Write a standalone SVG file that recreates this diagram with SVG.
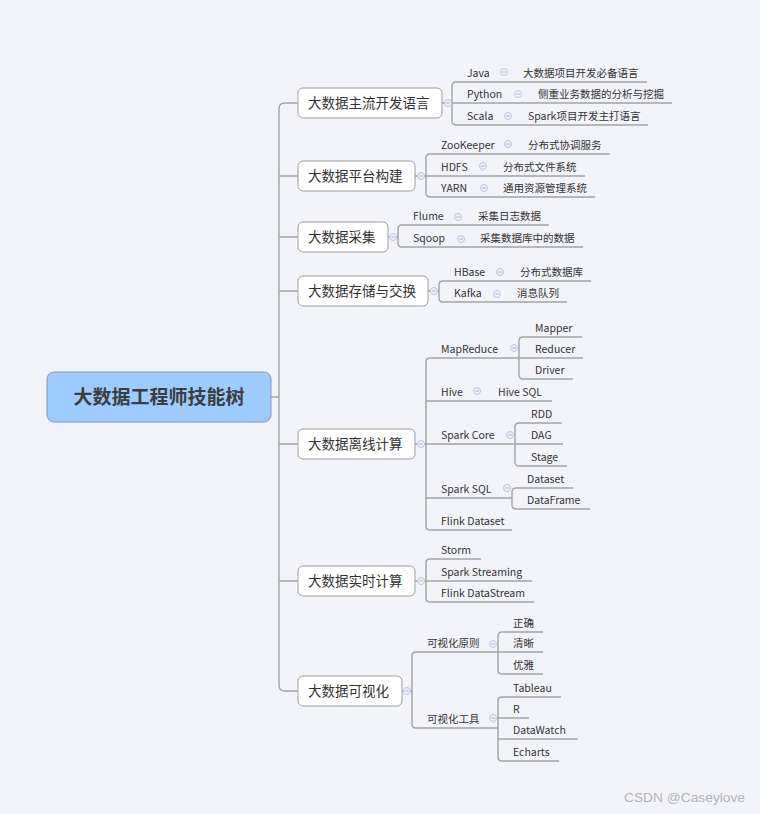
<svg xmlns="http://www.w3.org/2000/svg" xmlns:xlink="http://www.w3.org/1999/xlink" width="760" height="814" viewBox="0 0 760 814">
<style>
text{font-family:"Noto Sans CJK SC","Noto Sans",sans-serif;fill:#333}
.ln{fill:none;stroke:#a3a3a3;stroke-width:1.4}
.box{fill:#fff;stroke:#9e9e9e;stroke-width:1}
.t1{font-size:13.5px}
.t2{font-size:10.5px}
.wm{font-family:"Liberation Sans",Arial,sans-serif;font-size:13.3px;fill:#b3b3b3}
</style>
<defs>
<g id="cb"><circle r="3.5" fill="#eef1f8" stroke="#bcc6de" stroke-width="1"/><line x1="-1.8" x2="1.8" y1="0" y2="0" stroke="#a9b4d0" stroke-width="1"/></g>
</defs>
<rect width="760" height="814" fill="#f3f4f9"/>
<g id="connectors" class="ln">
<path d="M271,397H279M298,103H285Q279,103 279,109V685Q279,691 285,691H298M279,176H298M279,237H298M279,291H298M279,444H298M279,581H298"/>
<path d="M442,103H452M415,176H426M388,237H398M428,291H439M415,444H426M415,581H426M402,691H412"/>
<path d="M456,82Q452,82 452,86V121Q452,125 456,125M456,82H647M452,103H672M456,125H648"/>
<path d="M430,154Q426,154 426,158V193Q426,197 430,197M430,154H610M426,176H585M430,197H595"/>
<path d="M402,225Q398,225 398,229V243Q398,247 402,247M402,225H549M402,247H583"/>
<path d="M443,281Q439,281 439,285V298Q439,302 443,302M443,281H591M443,302H567"/>
<path d="M430,358Q426,358 426,362V526Q426,530 430,530M430,358H583M426,401H552M426,444H563M426,498H512M430,530H512"/>
<path d="M523,337Q519,337 519,341V375Q519,379 523,379M523,337H582M523,379H573"/>
<path d="M519,423Q515,423 515,427V462Q515,466 519,466M519,423H562M519,466H567"/>
<path d="M516,488Q512,488 512,492V505Q512,509 516,509M516,488H573M516,509H590"/>
<path d="M430,559Q426,559 426,563V598Q426,602 430,602M430,559H481M426,581H532M430,602H534"/>
<path d="M416,652Q412,652 412,656V724Q412,728 416,728M416,652H543M416,728H498"/>
<path d="M502,632Q498,632 498,636V670Q498,674 502,674M502,632H543M502,674H543"/>
<path d="M502,697Q498,697 498,701V757Q498,761 502,761M502,697H561M498,718H529M498,739H578M502,761H559"/>
</g>
<g id="root">
<rect x="47" y="372" width="224" height="50" rx="7" fill="#9bcbff" stroke="#8b97a8" stroke-width="1"/>
<text x="159" y="404" text-anchor="middle" style="font-size:19px;font-weight:bold;fill:#3d3d3d">大数据工程师技能树</text>
</g>
<g id="b1">
<rect class="box" x="298" y="88" width="144" height="30" rx="5"/>
<text class="t1" x="308" y="108">大数据主流开发语言</text>
<use xlink:href="#cb" x="448" y="103"/>
<text class="t2" x="467" y="77">Java</text><use xlink:href="#cb" x="504" y="72"/><text class="t2" x="523" y="77">大数据项目开发必备语言</text>
<text class="t2" x="467" y="98">Python</text><use xlink:href="#cb" x="518" y="94"/><text class="t2" x="538" y="98">侧重业务数据的分析与挖掘</text>
<text class="t2" x="467" y="120">Scala</text><use xlink:href="#cb" x="508" y="116"/><text class="t2" x="528" y="120">Spark项目开发主打语言</text>
</g>
<g id="b2">
<rect class="box" x="298" y="161" width="117" height="30" rx="5"/>
<text class="t1" x="308" y="181">大数据平台构建</text>
<use xlink:href="#cb" x="421" y="176"/>
<text class="t2" x="441" y="149">ZooKeeper</text><use xlink:href="#cb" x="508" y="144"/><text class="t2" x="528" y="149">分布式协调服务</text>
<text class="t2" x="441" y="171">HDFS</text><use xlink:href="#cb" x="483" y="166"/><text class="t2" x="503" y="171">分布式文件系统</text>
<text class="t2" x="441" y="192">YARN</text><use xlink:href="#cb" x="484" y="188"/><text class="t2" x="503" y="192">通用资源管理系统</text>
</g>
<g id="b3">
<rect class="box" x="298" y="222" width="90" height="30" rx="5"/>
<text class="t1" x="308" y="242">大数据采集</text>
<use xlink:href="#cb" x="393" y="237"/>
<text class="t2" x="413" y="220">Flume</text><use xlink:href="#cb" x="458" y="217"/><text class="t2" x="478" y="220">采集日志数据</text>
<text class="t2" x="413" y="242">Sqoop</text><use xlink:href="#cb" x="461" y="239"/><text class="t2" x="480" y="242">采集数据库中的数据</text>
</g>
<g id="b4">
<rect class="box" x="298" y="276" width="130" height="30" rx="5"/>
<text class="t1" x="308" y="296">大数据存储与交换</text>
<use xlink:href="#cb" x="434" y="291"/>
<text class="t2" x="454" y="276">HBase</text><use xlink:href="#cb" x="500" y="272"/><text class="t2" x="520" y="276">分布式数据库</text>
<text class="t2" x="454" y="297">Kafka</text><use xlink:href="#cb" x="497" y="294"/><text class="t2" x="517" y="297">消息队列</text>
</g>
<g id="b5">
<rect class="box" x="298" y="429" width="117" height="30" rx="5"/>
<text class="t1" x="308" y="449">大数据离线计算</text>
<use xlink:href="#cb" x="421" y="444"/>
<text class="t2" x="441" y="353">MapReduce</text><use xlink:href="#cb" x="514" y="348"/>
<text class="t2" x="535" y="332">Mapper</text>
<text class="t2" x="535" y="353">Reducer</text>
<text class="t2" x="535" y="374">Driver</text>
<text class="t2" x="441" y="396">Hive</text><use xlink:href="#cb" x="477" y="391"/><text class="t2" x="498" y="396">Hive SQL</text>
<text class="t2" x="441" y="439">Spark Core</text><use xlink:href="#cb" x="510" y="435"/>
<text class="t2" x="531" y="418">RDD</text>
<text class="t2" x="531" y="439">DAG</text>
<text class="t2" x="531" y="461">Stage</text>
<text class="t2" x="441" y="493">Spark SQL</text><use xlink:href="#cb" x="507" y="488"/>
<text class="t2" x="527" y="483">Dataset</text>
<text class="t2" x="527" y="504">DataFrame</text>
<text class="t2" x="441" y="525">Flink Dataset</text>
</g>
<g id="b6">
<rect class="box" x="298" y="566" width="117" height="30" rx="5"/>
<text class="t1" x="308" y="586">大数据实时计算</text>
<use xlink:href="#cb" x="421" y="581"/>
<text class="t2" x="441" y="554">Storm</text>
<text class="t2" x="441" y="576">Spark Streaming</text>
<text class="t2" x="441" y="597">Flink DataStream</text>
</g>
<g id="b7">
<rect class="box" x="298" y="676" width="104" height="30" rx="5"/>
<text class="t1" x="308" y="696">大数据可视化</text>
<use xlink:href="#cb" x="407" y="691"/>
<text class="t2" x="427" y="647">可视化原则</text><use xlink:href="#cb" x="493" y="644"/>
<text class="t2" x="513" y="627">正确</text>
<text class="t2" x="513" y="647">清晰</text>
<text class="t2" x="513" y="669">优雅</text>
<text class="t2" x="427" y="723">可视化工具</text><use xlink:href="#cb" x="493" y="718"/>
<text class="t2" x="513" y="692">Tableau</text>
<text class="t2" x="513" y="713">R</text>
<text class="t2" x="513" y="734">DataWatch</text>
<text class="t2" x="513" y="756">Echarts</text>
</g>
<text class="wm" x="624" y="802" textLength="121" lengthAdjust="spacingAndGlyphs">CSDN @Caseylove</text>
</svg>
